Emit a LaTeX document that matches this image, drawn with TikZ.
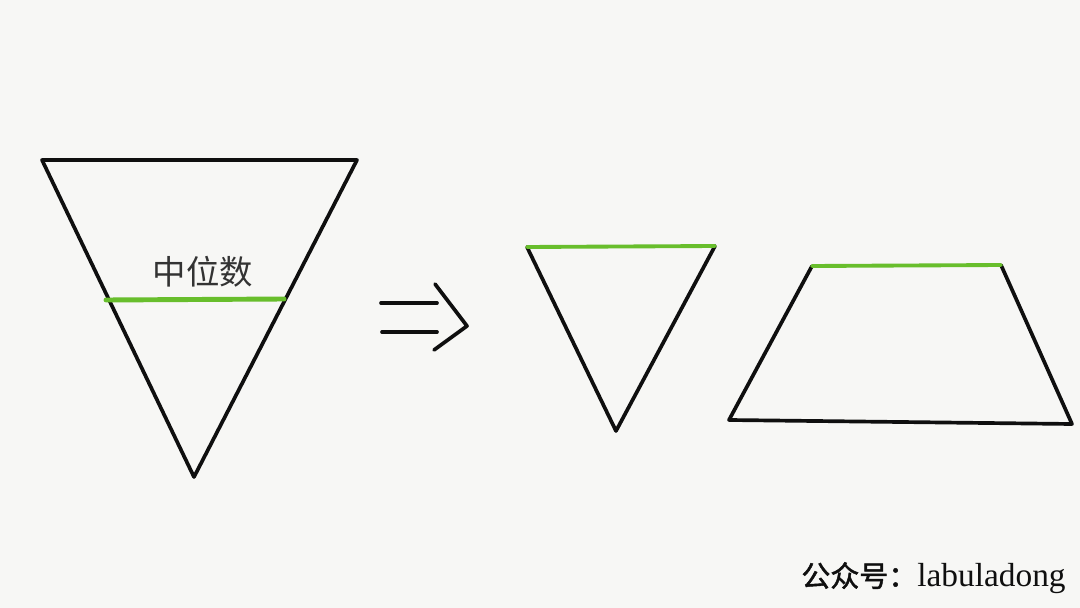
\documentclass[tikz,border=0pt]{standalone}
\usepackage{fontspec}
\newfontfamily\cjk{Noto Sans CJK SC}
\newfontfamily\cjkb{Noto Sans CJK SC}[FakeBold=1.5]
\newfontfamily\lser{Liberation Serif}
\definecolor{bgc}{RGB}{247,247,245}
\definecolor{grn}{RGB}{104,190,44}
\definecolor{ink}{RGB}{15,15,15}
\begin{document}
\begin{tikzpicture}[x=0.02cm,y=-0.02cm,
  blk/.style={draw=ink,line width=2.1pt,line cap=round,line join=round},
  gl/.style={draw=grn,line width=2.8pt,line cap=round}]
\fill[bgc] (0,0) rectangle (1080,608);
\useasboundingbox (0,0) rectangle (1080,608);
% big triangle
\coordinate (A1) at (42,160);
\coordinate (A2) at (357,160);
\coordinate (A3) at (194,477);
\coordinate (M1) at (106,300);
\coordinate (M2) at (284,299);
\draw[blk] (A1) -- (A2) -- (A3) -- cycle;
\draw[gl] (M1) -- (M2);
\node[font=\cjk\fontsize{19}{19}\selectfont,text=ink!85] (lab) at (203,272) {中位数};
% arrow
\coordinate (R1) at (381,303); \coordinate (R2) at (437,303);
\coordinate (R3) at (382,332); \coordinate (R4) at (437,332);
\coordinate (C1) at (435,284); \coordinate (C2) at (467,326); \coordinate (C3) at (434,350);
\draw[blk] (R1) -- (R2);
\draw[blk] (R3) -- (R4);
\draw[blk] (C1) -- (C2) -- (C3);
% middle triangle
\coordinate (B1) at (527,247);
\coordinate (B2) at (715,246);
\coordinate (B3) at (616,431);
\draw[blk] (B2) -- (B3) -- (B1);
\draw[gl,line width=2.2pt] (B1) -- (B2);
% trapezoid
\coordinate (T1) at (812,266);
\coordinate (T2) at (1001,265);
\coordinate (T3) at (1072,424);
\coordinate (T4) at (729,420);
\draw[blk] (T2) -- (T3) -- (T4) -- (T1);
\draw[gl,line width=2.2pt] (T1) -- (T2);
% watermark
\node[anchor=east,inner sep=0pt,text=ink] (wm) at (1066,578)
  {{\cjkb\fontsize{16.5}{16.5}\selectfont 公众号：}{\lser\fontsize{19}{19}\selectfont labuladong}};
\end{tikzpicture}
\end{document}
